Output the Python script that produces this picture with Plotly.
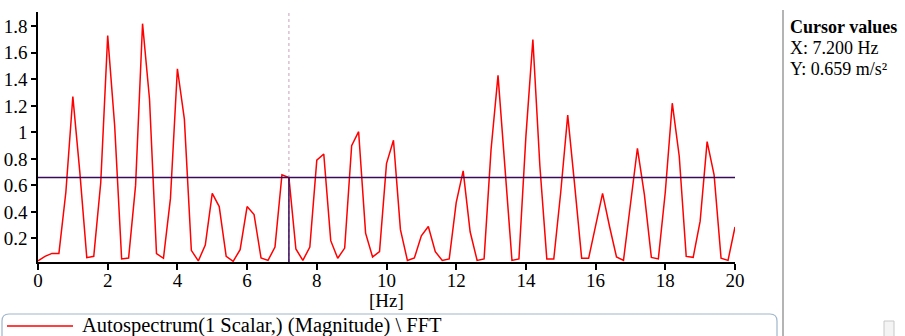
import numpy as np
import plotly.graph_objects as go

# ---- data ----
freq_step = 0.2
magnitude = [
    0.03, 0.064, 0.087, 0.087, 0.55, 1.27, 0.70, 0.055, 0.065, 0.62,
    1.73, 1.05, 0.045, 0.052, 0.60, 1.82, 1.25, 0.085, 0.05, 0.50,
    1.48, 1.10, 0.11, 0.03, 0.15, 0.54, 0.44, 0.064, 0.027, 0.115,
    0.44, 0.38, 0.052, 0.034, 0.135, 0.68, 0.659, 0.12, 0.034, 0.135,
    0.79, 0.837, 0.183, 0.05, 0.127, 0.90, 1.005, 0.24, 0.06, 0.10,
    0.764, 0.94, 0.266, 0.034, 0.052, 0.22, 0.29, 0.10, 0.034, 0.045,
    0.47, 0.71, 0.25, 0.034, 0.045, 0.87, 1.43, 0.70, 0.034, 0.045,
    0.97, 1.70, 0.75, 0.045, 0.045, 0.55, 1.13, 0.60, 0.05, 0.05,
    0.29, 0.54, 0.29, 0.06, 0.034, 0.46, 0.88, 0.53, 0.057, 0.045,
    0.55, 1.22, 0.82, 0.064, 0.057, 0.33, 0.93, 0.68, 0.05, 0.034,
    0.286,
]
freqs = list(np.round(np.arange(len(magnitude)) * freq_step, 1))
series_name = "Autospectrum(1 Scalar,) (Magnitude) \\ FFT"
cursor_x = 7.2
cursor_y = 0.659
x_range = [0, 20]
y_range = [0.022, 1.908]
x_ticks = [0, 2, 4, 6, 8, 10, 12, 14, 16, 18, 20]
y_ticks = [0.2, 0.4, 0.6, 0.8, 1.0, 1.2, 1.4, 1.6, 1.8]
y_tick_text = ["0.2", "0.4", "0.6", "0.8", "1", "1.2", "1.4", "1.6", "1.8"]

# ---- layout constants (pixels) ----
W, H = 905, 336
L, R, T, B = 38, 170, 12, 74
PW, PH = W - L - R, H - T - B
SERIF = "Liberation Serif"
RED = "#ff0000"


def px(xp):
    return (xp - L) / PW


def py(yp):
    return (H - B - yp) / PH


fig = go.Figure()
fig.add_trace(go.Scatter(
    x=freqs, y=magnitude, mode="lines", name=series_name,
    line=dict(color=RED, width=1.5), showlegend=False,
))

shapes = []
# cursor dashed vertical line
shapes.append(dict(type="line", xref="x", yref="paper", x0=cursor_x, x1=cursor_x,
                   y0=0, y1=1, line=dict(color="#c8a0b6", width=1, dash="dot")))
# horizontal cursor line
shapes.append(dict(type="line", xref="x", yref="y", x0=x_range[0], x1=x_range[1],
                   y0=cursor_y, y1=cursor_y, line=dict(color="#3a0a5a", width=1.5)))
# vertical solid cursor line
shapes.append(dict(type="line", xref="x", yref="y", x0=cursor_x, x1=cursor_x,
                   y0=y_range[0], y1=cursor_y, line=dict(color="#3a0a5a", width=1.5)))
# right panel separator
shapes.append(dict(type="line", xref="paper", yref="paper", x0=px(783), x1=px(783),
                   y0=py(10), y1=py(H + 2), line=dict(color="#b4b4b4", width=2)))

# rounded legend box
x0, x1, y0, y1, r = 2, 777, 314, 345, 7
def P(a, b):
    return f"{px(a):.5f},{py(b):.5f}"
path = (f"M {P(x0 + r, y0)} L {P(x1 - r, y0)} Q {P(x1, y0)} {P(x1, y0 + r)} "
        f"L {P(x1, y1 - r)} Q {P(x1, y1)} {P(x1 - r, y1)} "
        f"L {P(x0 + r, y1)} Q {P(x0, y1)} {P(x0, y1 - r)} "
        f"L {P(x0, y0 + r)} Q {P(x0, y0)} {P(x0 + r, y0)} Z")
shapes.append(dict(type="path", xref="paper", yref="paper", path=path,
                   line=dict(color="#9fb6cc", width=1.2)))
# legend line sample
shapes.append(dict(type="line", xref="paper", yref="paper", x0=px(7), x1=px(73),
                   y0=py(326), y1=py(326), line=dict(color=RED, width=1.5)))
# small scroll box at bottom right
shapes.append(dict(type="rect", xref="paper", yref="paper", x0=px(884), x1=px(894),
                   y0=py(338), y1=py(321), line=dict(color="#c8c8c8", width=1),
                   fillcolor="#f4f4f4"))

annotations = [
    dict(xref="paper", yref="paper", x=px(788), y=py(27), xanchor="left", yanchor="middle",
         text="<b>Cursor values</b>", showarrow=False,
         font=dict(family=SERIF, size=18, color="#000")),
    dict(xref="paper", yref="paper", x=px(788), y=py(48), xanchor="left", yanchor="middle",
         text=f"X: {cursor_x:.3f} Hz", showarrow=False,
         font=dict(family=SERIF, size=18, color="#000")),
    dict(xref="paper", yref="paper", x=px(788), y=py(69), xanchor="left", yanchor="middle",
         text=f"Y: {cursor_y:.3f} m/s²", showarrow=False,
         font=dict(family=SERIF, size=18, color="#000")),
    dict(xref="paper", yref="paper", x=px(386), y=py(300), xanchor="center", yanchor="middle",
         text="[Hz]", showarrow=False,
         font=dict(family=SERIF, size=19, color="#000")),
    dict(xref="paper", yref="paper", x=px(80), y=py(325), xanchor="left", yanchor="middle",
         text=series_name, showarrow=False,
         font=dict(family=SERIF, size=20.5, color="#000")),
]

fig.update_layout(
    template="none",
    width=W, height=H,
    margin=dict(l=L, r=R, t=T, b=B, pad=0, autoexpand=False),
    paper_bgcolor="white", plot_bgcolor="white",
    font=dict(family=SERIF, size=19, color="#000"),
    showlegend=False,
    shapes=shapes,
    annotations=annotations,
    xaxis=dict(range=x_range, tickvals=x_ticks, showgrid=False, zeroline=False,
               automargin=False,
               showline=True, linecolor="#000", linewidth=1.5,
               ticks="outside", ticklen=6, tickwidth=1.5, tickcolor="#000",
               ticklabelstandoff=-6,
               tickfont=dict(family=SERIF, size=19, color="#000")),
    yaxis=dict(range=y_range, tickvals=y_ticks, ticktext=y_tick_text,
               showgrid=False, zeroline=False, automargin=False,
               showline=True, linecolor="#000", linewidth=1.5,
               ticks="outside", ticklen=5, tickwidth=1.5, tickcolor="#000",
               tickfont=dict(family=SERIF, size=19, color="#000")),
)

fig.write_html("out.html")
